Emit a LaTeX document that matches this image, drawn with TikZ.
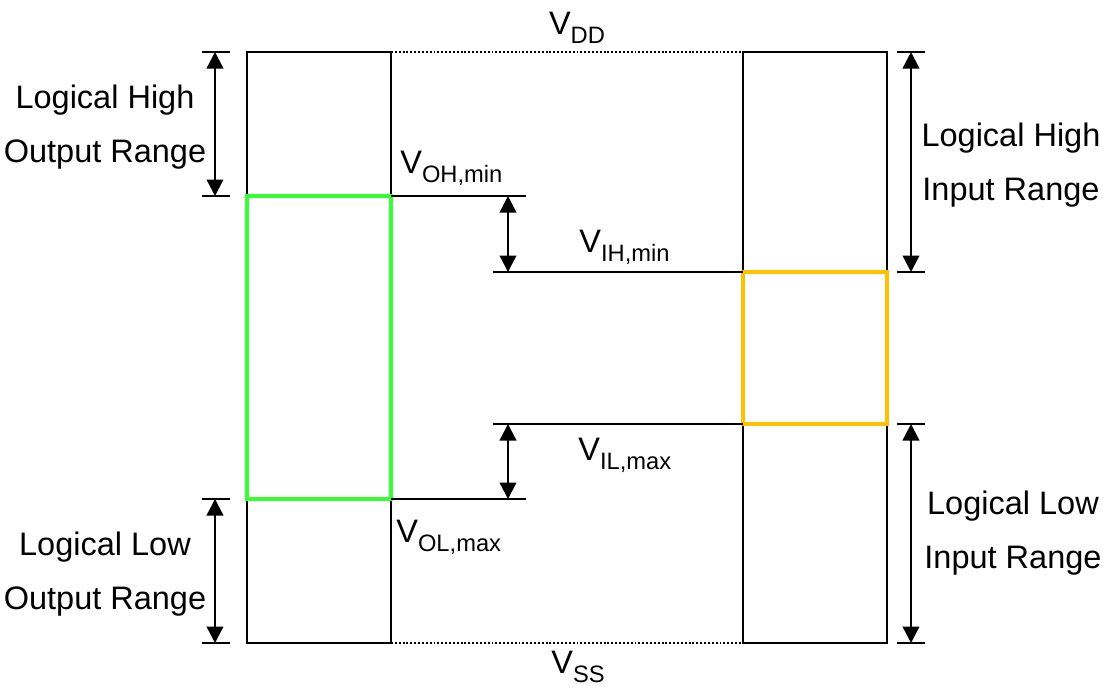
\documentclass[tikz,border=0pt]{standalone}
\usepackage{fontspec}
\setmainfont{Liberation Sans}
\usetikzlibrary{arrows.meta, positioning, calc}
\definecolor{levelGreen}{HTML}{33FF33}
\definecolor{levelOrange}{HTML}{FFC000}
\newcommand{\volt}[1]{V\raisebox{-5.5pt}{\fontsize{13.5}{14}\selectfont #1}}
\tikzset{
  wire/.style={line width=1.35pt, black},
  dotwire/.style={line width=1.35pt, dash pattern=on 1.1pt off 1.1pt},
  span/.style={{Triangle[length=3.3mm,width=3.3mm]}-{Triangle[length=3.3mm,width=3.3mm]}, line width=1.35pt},
  band/.style={line width=2.6pt},
  lbl/.style={align=center, inner sep=0pt, font=\fontsize{18.5}{31}\selectfont},
  vlbl/.style={inner sep=0pt, font=\fontsize{18.5}{20}\selectfont},
}

\begin{document}
\begin{tikzpicture}[x=0.02cm, y=-0.02cm]
  \useasboundingbox (0,0) rectangle (1103,694);
  % columns
  \draw[wire] (247,52) rectangle (391,643);
  \draw[wire] (743,52) rectangle (887,643);
  \draw[band, levelGreen] (247,196) rectangle (391,499);
  \draw[band, levelOrange] (743,272) rectangle (887,424);
  \draw[dotwire] (391,52) -- (743,52);
  \draw[dotwire] (391,643) -- (743,643);
  % levels
  \draw[wire] (391,196) -- (526,196); \draw[wire] (493,272) -- (743,272);
  \draw[wire] (493,424) -- (743,424); \draw[wire] (391,499) -- (526,499);
  \foreach \y in {52,196,499,643} \draw[wire] (202,\y) -- (230,\y);
  \foreach \y in {52,272,424,643} \draw[wire] (897,\y) -- (925,\y);
  % arrow ends
  \coordinate (oh1) at (215,52);  \coordinate (oh2) at (215,196);
  \coordinate (ol1) at (215,499); \coordinate (ol2) at (215,643);
  \coordinate (ih1) at (911,52);  \coordinate (ih2) at (911,272);
  \coordinate (il1) at (911,424); \coordinate (il2) at (911,643);
  \coordinate (nh1) at (508,196); \coordinate (nh2) at (508,272);
  \coordinate (nl1) at (508,424); \coordinate (nl2) at (508,499);
  \draw[span] (oh1) -- (oh2); \draw[span] (ol1) -- (ol2);
  \draw[span] (ih1) -- (ih2); \draw[span] (il1) -- (il2);
  \draw[span] (nh1) -- (nh2); \draw[span] (nl1) -- (nl2);
  % labels
  \node[lbl] (outHi) at (105,127) {Logical High\\Output Range};
  \node[lbl] (outLo) at (105,574) {Logical Low\\Output Range};
  \node[lbl] (inHi) at (1011,165) {Logical High\\Input Range};
  \node[lbl] (inLo) at (1013,533) {Logical Low\\Input Range};
  \node[vlbl, anchor=base] (vDD) at (577,34) {\volt{DD}};
  \node[vlbl, anchor=base] (vSS) at (578,673) {\volt{SS}};
  \node[vlbl, anchor=base west] (vOH) at (400,173) {\volt{OH,min}};
  \node[vlbl, anchor=base west] (vIH) at (579,252) {\volt{IH,min}};
  \node[vlbl, anchor=base west] (vIL) at (578,460) {\volt{IL,max}};
  \node[vlbl, anchor=base west] (vOL) at (396,542) {\volt{OL,max}};
\end{tikzpicture}
\end{document}
